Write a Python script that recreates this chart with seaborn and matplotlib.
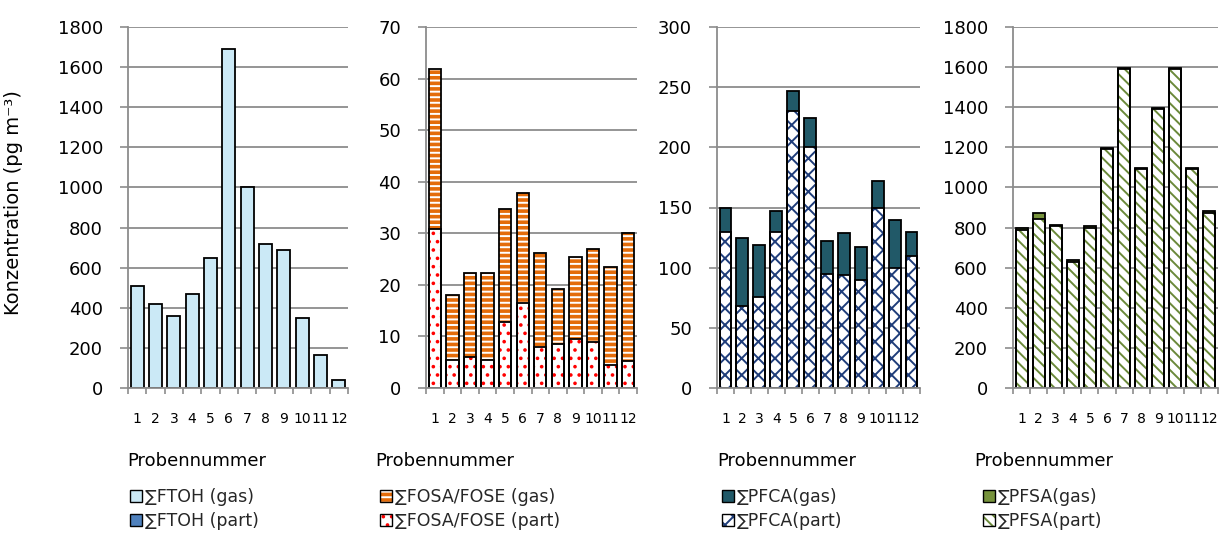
import numpy as np
import matplotlib
matplotlib.use('Agg')
import matplotlib.pyplot as plt
from matplotlib.patches import Patch
from matplotlib.legend_handler import HandlerTuple
import seaborn as sns

# Probennummern
proben = ['1', '2', '3', '4', '5', '6', '7', '8', '9', '10', '11', '12']

# Konzentrationen (pg m^-3)
ftoh_gas = [510, 418, 359, 469, 649, 1690, 1000, 718, 689, 347, 167, 38]
ftoh_part = [0, 0, 0, 0, 0, 0, 0, 0, 0, 0, 0, 0]

fosa_gas = [31.0, 12.6, 16.2, 16.8, 21.9, 21.3, 18.2, 10.7, 15.9, 18.1, 19.0, 24.8]
fosa_part = [30.8, 5.5, 6.1, 5.5, 12.8, 16.5, 8.0, 8.5, 9.5, 8.9, 4.5, 5.3]

pfca_gas = [20, 57, 43, 17, 17, 24, 27, 35, 27, 22, 40, 20]
pfca_part = [130, 68, 76, 130, 230, 200, 95, 94, 90, 150, 100, 110]

pfsa_gas = [8, 28, 6, 6, 6, 6, 6, 6, 6, 6, 6, 6]
pfsa_part = [790, 845, 808, 630, 800, 1192, 1592, 1092, 1392, 1592, 1092, 875]

labels = [('∑FTOH (gas)', '∑FTOH (part)'),
          ('∑FOSA/FOSE (gas)', '∑FOSA/FOSE (part)'),
          ('∑PFCA(gas)', '∑PFCA(part)'),
          ('∑PFSA(gas)', '∑PFSA(part)')]

sns.set_style('white')
plt.rcParams['font.family'] = ['DejaVu Sans']
plt.rcParams['hatch.linewidth'] = 1.4

W, H = 1219, 542
TOP, BOTTOM = 27, 388
GRID = '#8C8C8C'

# (gas, part, ymax, step, gas style, part style, x-range px, xlabel x px, legend x px)
panels = [
    (ftoh_gas, ftoh_part, 1800, 200, ('#CBE9F6', None, None), ('#4F81BD', None, None), (128, 348), 197, 130),
    (fosa_gas, fosa_part, 70, 10, ('#E46C0A', '---', 'white'), ('white', '..', '#FF0000'), (426, 637), 445, 380),
    (pfca_gas, pfca_part, 300, 50, ('#215968', None, None), ('white', 'xx', '#1F3D7A'), (717, 920), 787, 722),
    (pfsa_gas, pfsa_part, 1800, 200, ('#77933C', None, None), ('white', '\\\\\\', '#6B8A3A'), (1013, 1218), 1044, 983),
]

fig = plt.figure(figsize=(W / 100, H / 100), dpi=100)


def draw_layer(ax, values, style):
    face, hatch, hcolor = style
    sns.barplot(x=proben, y=values, ax=ax, color=face, saturation=1, width=0.7, errorbar=None)
    for bar in ax.containers[-1]:
        bar.set_facecolor(face)
        if hatch:
            bar.set_hatch(hatch)
            bar.set_edgecolor(hcolor)
        bar.set_linewidth(0)


def draw_outline(ax, values):
    sns.barplot(x=proben, y=values, ax=ax, color='black', width=0.7, errorbar=None)
    for bar in ax.containers[-1]:
        bar.set_facecolor('none')
        bar.set_edgecolor('black')
        bar.set_linewidth(1.3)


def legend_handle(style):
    face, hatch, hcolor = style
    fill = Patch(facecolor=face, edgecolor=hcolor if hcolor else face, hatch=hatch, linewidth=0)
    edge = Patch(facecolor='none', edgecolor='black', linewidth=1.0)
    return (fill, edge)


for i, (gas, part, ymax, step, gstyle, pstyle, (x0, x1), xl, lx) in enumerate(panels):
    ax = fig.add_axes([x0 / W, 1 - BOTTOM / H, (x1 - x0) / W, (BOTTOM - TOP) / H])
    total = [g + p for g, p in zip(gas, part)]

    draw_layer(ax, total, gstyle)
    draw_layer(ax, part, pstyle)
    draw_outline(ax, total)
    draw_outline(ax, part)

    ax.set_xlim(-0.5, 11.5)
    ax.set_ylim(0, ymax)
    ax.set_yticks(np.arange(0, ymax + 1, step))
    ax.set_axisbelow(True)
    ax.yaxis.grid(True, color=GRID, linewidth=1.3)
    ax.xaxis.grid(False)

    for s in ['top', 'right']:
        ax.spines[s].set_visible(False)
    for s in ['left', 'bottom']:
        ax.spines[s].set_color(GRID)
        ax.spines[s].set_linewidth(1.3)

    ax.set_xticks(np.arange(-0.5, 12, 1), minor=True)
    ax.tick_params(axis='x', which='minor', length=4.5, width=1.2, color=GRID, direction='out', bottom=True)
    ax.tick_params(axis='x', which='major', length=0, labelsize=10, pad=17, labelcolor='black')
    ax.tick_params(axis='y', which='major', length=6, width=1.2, color=GRID, direction='out',
                   left=True, labelsize=13, pad=12, labelcolor='black')

    ax.set_xlabel('Probennummer', fontsize=13, color='black', va='top')
    ax.xaxis.set_label_coords(xl / W, 1 - 452 / H, transform=fig.transFigure)
    if i == 0:
        ax.set_ylabel('Konzentration (pg m⁻³)', fontsize=14, color='black')
        ax.yaxis.set_label_coords(23 / W, 1 - 203 / H, transform=fig.transFigure)
    else:
        ax.set_ylabel('')

    ax.legend(handles=[legend_handle(gstyle), legend_handle(pstyle)], labels=list(labels[i]),
              handler_map={tuple: HandlerTuple(ndivide=1, pad=0)},
              loc='upper left', bbox_to_anchor=(lx / W, 1 - 488 / H), bbox_transform=fig.transFigure,
              frameon=False, fontsize=12.5, handlelength=0.7, handleheight=0.7, handletextpad=0.15,
              labelspacing=0.35, borderpad=0, borderaxespad=0)

fig.savefig('out.png', dpi=100)
